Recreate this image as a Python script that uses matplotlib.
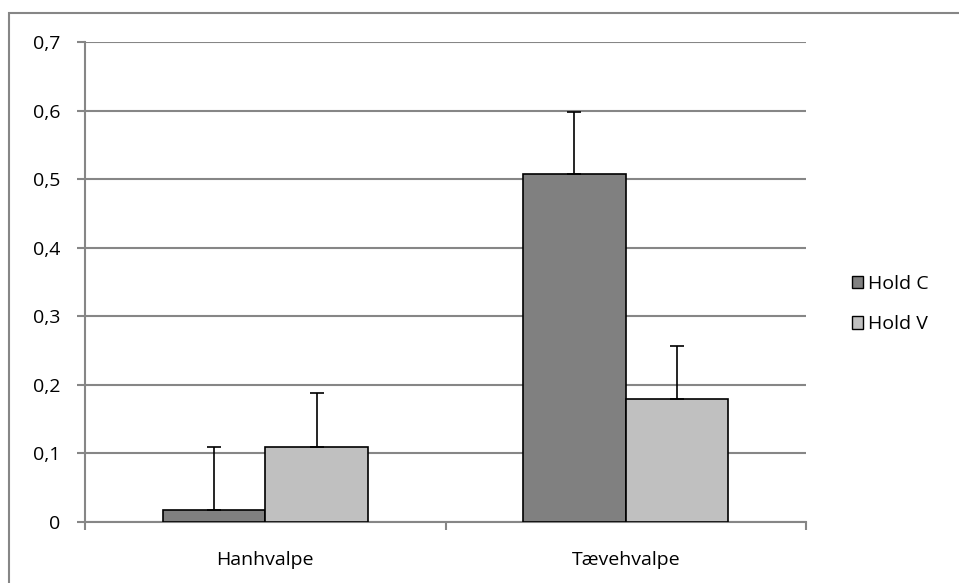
import numpy as np
import matplotlib.pyplot as plt
from matplotlib.patches import Rectangle, Patch
from matplotlib.ticker import FuncFormatter

categories = ["Hanhvalpe", "Tævehvalpe"]
hold_c = [0.017, 0.507]
hold_c_err = [0.093, 0.091]
hold_v = [0.109, 0.179]
hold_v_err = [0.079, 0.078]
yticks = [0, 0.1, 0.2, 0.3, 0.4, 0.5, 0.6, 0.7]

plt.rcParams["font.family"] = ["Open Sans", "DejaVu Sans"]

fig = plt.figure(figsize=(9.59, 5.83), dpi=100)
fig.patches.append(Rectangle((9 / 959, -0.1), 1.2, 1 - 13 / 583 + 0.1,
                             transform=fig.transFigure, fill=False,
                             edgecolor="#868686", linewidth=1.5))

ax = fig.add_axes([85 / 959, 1 - 522 / 583, (806 - 85) / 959, 480 / 583])

x = np.arange(len(categories))
w = 0.285
grey = "#868686"
ax.bar(x - w / 2, hold_c, w, color="#808080", edgecolor="black", linewidth=1.2,
       yerr=[np.zeros(2), hold_c_err], capsize=5,
       error_kw=dict(ecolor="black", elinewidth=1.2, capthick=1.2), zorder=3)
ax.bar(x + w / 2, hold_v, w, color="#C0C0C0", edgecolor="black", linewidth=1.2,
       yerr=[np.zeros(2), hold_v_err], capsize=5,
       error_kw=dict(ecolor="black", elinewidth=1.2, capthick=1.2), zorder=3)

ax.set_xlim(-0.5, 1.5)
ax.set_ylim(0, 0.7)
ax.set_yticks(yticks)
ax.yaxis.set_major_formatter(FuncFormatter(lambda v, p: f"{v:.1f}".replace(".", ",") if v else "0"))
ax.yaxis.grid(True, color=grey, linewidth=1.5)
ax.set_axisbelow(True)

ax.set_xticks([-0.5, 0.5, 1.5])
ax.set_xticklabels([])
ax.set_xticks(x, minor=True)
ax.set_xticklabels(categories, minor=True)
ax.tick_params(axis="x", which="minor", length=0, pad=21, labelsize=14)
ax.tick_params(axis="x", which="major", length=6, width=1.5, color=grey)
ax.tick_params(axis="y", length=6, width=1.5, color=grey, labelsize=14, pad=12)

for s in ["top", "right"]:
    ax.spines[s].set_visible(False)
ax.spines["left"].set_color(grey)
ax.spines["left"].set_linewidth(1.5)
ax.spines["bottom"].set_color(grey)
ax.spines["bottom"].set_linewidth(1.5)

handles = [Patch(facecolor="#808080", edgecolor="black"),
           Patch(facecolor="#C0C0C0", edgecolor="black")]
fig.legend(handles, ["Hold C", "Hold V"], loc="center left",
           bbox_to_anchor=(834 / 959, 1 - 304 / 583), frameon=False,
           fontsize=14, handlelength=0.6, handleheight=0.6, handletextpad=0.25,
           labelspacing=1.15)

fig.savefig("out.png", dpi=100)
